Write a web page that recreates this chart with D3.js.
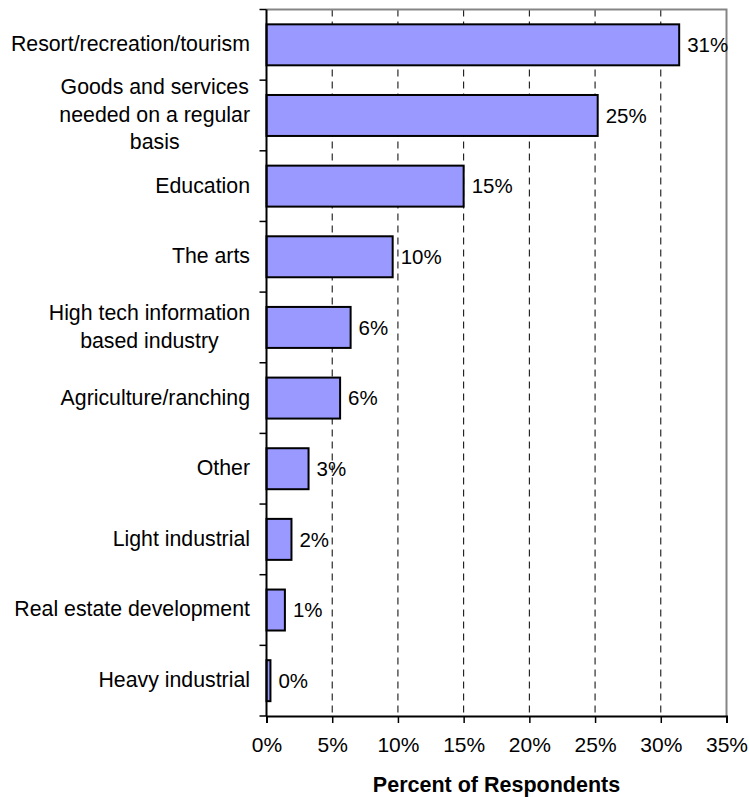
<!DOCTYPE html>
<html>
<head>
<meta charset="utf-8">
<script src="https://cdn.jsdelivr.net/npm/d3@7/dist/d3.min.js"></script>
<style>
  body { margin: 0; background: #fff; }
  svg text { font-family: "Liberation Sans", Arial, sans-serif; fill: #000; }
</style>
</head>
<body>
<div class="app"></div>
<script>
// values
const categories = [
  'Resort/recreation/tourism',
  'Goods and services\nneeded on a regular\nbasis',
  'Education',
  'The arts',
  'High tech information\nbased industry',
  'Agriculture/ranching',
  'Other',
  'Light industrial',
  'Real estate development',
  'Heavy industrial'
]
const values = [31.4, 25.2, 15.0, 9.6, 6.4, 5.6, 3.2, 1.9, 1.4, 0.3]
const xTicks = [0, 5, 10, 15, 20, 25, 30, 35]
const xTitle = 'Percent of Respondents'

const W = 749, H = 797
const plotL = 266.5, plotR = 726.5, plotT = 9.5, plotB = 716

const svg = d3.select('.app').append('svg').attr('width', W).attr('height', H)

const x = d3.scaleLinear().domain([0, 35]).range([plotL, plotR])
const y = d3.scaleBand().domain(categories).range([plotT, plotB])
  .paddingInner(0.42).paddingOuter(0.21)

// dashed gridlines
svg.append('g').selectAll('line')
  .data(xTicks.filter(t => t > 0 && t < 35))
  .enter().append('line')
  .attr('x1', d => x(d)).attr('x2', d => x(d))
  .attr('y1', plotT).attr('y2', plotB)
  .attr('stroke', '#000').attr('stroke-width', 1)
  .attr('stroke-dasharray', '7,5')

// top + right frame (grey)
svg.append('path')
  .attr('d', `M${plotL},${plotT}H${plotR}V${plotB}`)
  .attr('fill', 'none').attr('stroke', '#858585').attr('stroke-width', 2)

// bars
svg.append('g').selectAll('rect')
  .data(categories)
  .enter().append('rect')
  .attr('x', x(0))
  .attr('y', d => y(d))
  .attr('width', (d, i) => x(values[i]) - x(0))
  .attr('height', y.bandwidth())
  .attr('fill', '#9999ff')
  .attr('stroke', '#000').attr('stroke-width', 2)

// value labels
svg.append('g').selectAll('text')
  .data(categories)
  .enter().append('text')
  .attr('x', (d, i) => x(values[i]) + 8)
  .attr('y', d => y(d) + y.bandwidth() / 2)
  .attr('dy', '0.35em')
  .attr('font-size', 20.5)
  .text((d, i) => Math.round(values[i]) + '%')

// x axis
const xAxis = svg.append('g')
  .attr('transform', `translate(0,${plotB})`)
  .call(d3.axisBottom(x).tickValues(xTicks).tickSize(7).tickPadding(14)
    .tickFormat(d => d + '%'))
xAxis.select('.domain').attr('stroke', '#000').attr('stroke-width', 2)
xAxis.selectAll('.tick line').attr('stroke', '#000').attr('stroke-width', 1.5)
xAxis.selectAll('.tick text').attr('font-size', 21)
  .style('font-family', '"Liberation Sans", Arial, sans-serif')

// y axis line + ticks between categories
const step = y.step()
const bounds = categories.map(c => y(c) - step * y.paddingInner() / 2)
bounds.push(plotB)
const yAxis = svg.append('g')
yAxis.append('line')
  .attr('x1', plotL).attr('x2', plotL).attr('y1', plotT).attr('y2', plotB)
  .attr('stroke', '#000').attr('stroke-width', 2)
yAxis.selectAll('.yt').data(bounds).enter().append('line')
  .attr('x1', plotL - 7).attr('x2', plotL)
  .attr('y1', d => d).attr('y2', d => d)
  .attr('stroke', '#000').attr('stroke-width', 1.5)

// category labels (multi-line ones centred on their widest line)
const lineH = 27.5
categories.forEach(c => {
  const lines = c.split('\n')
  const cy = y(c) + y.bandwidth() / 2 - 1
  const g = svg.append('g')
  const t = g.append('text').attr('font-size', 21.3).attr('text-anchor', 'middle')
  lines.forEach((ln, i) => {
    t.append('tspan').attr('x', 0)
      .attr('y', cy + (i - (lines.length - 1) / 2) * lineH)
      .attr('dy', '0.35em').text(ln)
  })
  const w = t.node().getBBox().width
  g.attr('transform', `translate(${250 - w / 2},0)`)
})

// axis title
svg.append('text')
  .attr('x', (plotL + plotR) / 2).attr('y', 792)
  .attr('text-anchor', 'middle')
  .attr('font-size', 21.5).attr('font-weight', 'bold')
  .text(xTitle)
</script>
</body>
</html>
